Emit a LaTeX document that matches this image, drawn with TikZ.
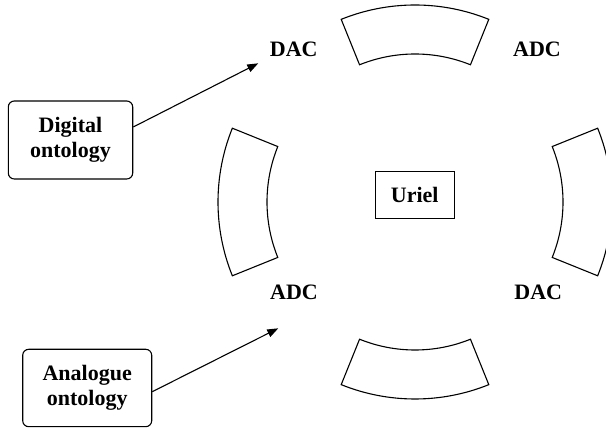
\documentclass[tikz,border=0pt]{standalone}
\usepackage{fontspec}
\setmainfont{Liberation Serif}
\usetikzlibrary{arrows.meta}
\begin{document}
\begin{tikzpicture}[x=1pt,y=1pt,
  line width=1.1pt,
  lbl/.style={inner sep=0pt,font=\fontsize{22}{26}\selectfont\bfseries},
  ontobox/.style={draw,rounded corners=6pt,inner sep=0pt,align=center,
    font=\fontsize{22}{25}\selectfont\bfseries},
  seg/.style={draw,line join=miter},
  arr/.style={-{Triangle[length=11pt,width=8pt]}}]
\useasboundingbox (0,0) rectangle (606,428);
% ring segments, centre (415,226)
\begin{scope}[shift={(415,226)}]
  \draw[seg] (68:197) arc[start angle=68,end angle=112,radius=197] -- (112:148) arc[start angle=112,end angle=68,radius=148] -- cycle;
  \draw[seg] (158:197) arc[start angle=158,end angle=202,radius=197] -- (202:148) arc[start angle=202,end angle=158,radius=148] -- cycle;
  \draw[seg] (248:197) arc[start angle=248,end angle=292,radius=197] -- (292:148) arc[start angle=292,end angle=248,radius=148] -- cycle;
  \draw[seg] (-22:197) arc[start angle=-22,end angle=22,radius=197] -- (22:148) arc[start angle=22,end angle=-22,radius=148] -- cycle;
\end{scope}
\node[draw,inner sep=0pt,minimum width=79pt,minimum height=46.5pt,font=\fontsize{22}{26}\selectfont\bfseries] (uriel) at (414.7,233) {Uriel};
\node[lbl] (dac1) at (293.7,378.3) {DAC};
\node[lbl] (adc1) at (537,378.3) {ADC};
\node[lbl] (adc2) at (294,136) {ADC};
\node[lbl] (dac2) at (538.3,136) {DAC};
\node[ontobox,minimum width=124.4pt,minimum height=78pt] (dig) at (70.5,288) {Digital\\ontology};
\node[ontobox,minimum width=129pt,minimum height=77.4pt] (ana) at (87.2,40) {Analogue\\ontology};
\coordinate (dtip) at (258.3,364.7);
\coordinate (atip) at (278.3,99.7);
\draw[arr] ([yshift=13pt]dig.east) -- (dtip);
\draw[arr] ([yshift=-3.7pt]ana.east) -- (atip);
\end{tikzpicture}
\end{document}
